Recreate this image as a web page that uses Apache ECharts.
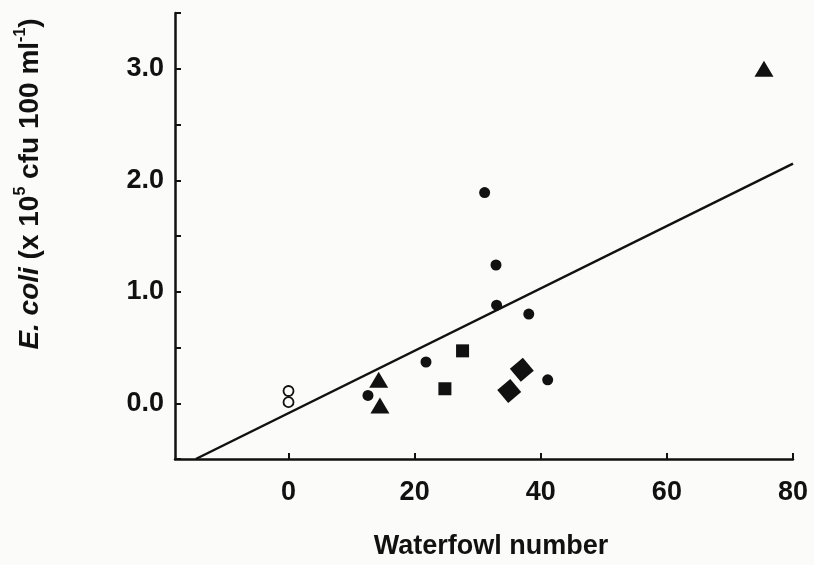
<!DOCTYPE html>
<html>
<head>
<meta charset="utf-8">
<script src="https://cdn.jsdelivr.net/npm/echarts@6/dist/echarts.min.js"></script>
<style>
  html, body { margin: 0; padding: 0; background: #fbfbfa; }
  #chart { width: 814px; height: 565px; }
</style>
</head>
<body>
<div id="chart"></div>
<script>
// values: [waterfowl number, E. coli x10^5 cfu/100 ml]
const openCircles = [[0, 0.11], [0, 0.01]];
const circles = [[12.6, 0.07], [21.8, 0.37], [31.1, 1.89], [32.9, 1.24], [33.0, 0.88], [38.1, 0.80], [41.1, 0.21]];
const triangles = [[14.3, 0.21], [14.5, -0.02], [75.4, 3.0]];
const squares = [[24.8, 0.13], [27.6, 0.47]];
const diamonds = [[35.0, 0.11], [37.0, 0.30]];
const fitLine = [[-14.7, -0.5], [80, 2.15]];

const xTicks = [0, 20, 40, 60, 80];
const yLabels = [0, 1, 2, 3];

const font = '"Liberation Sans", Arial, sans-serif';
const ink = '#111';
let chart = echarts.init(document.getElementById('chart'));

chart.setOption({
  backgroundColor: '#fbfbfa',
  animation: false,
  grid: { left: 175, right: 21, top: 13, bottom: 104 },
  xAxis: {
    type: 'value',
    min: -18,
    max: 80,
    name: 'Waterfowl number',
    nameLocation: 'middle',
    nameGap: 74,
    nameTextStyle: { fontFamily: font, fontSize: 27, fontWeight: 'bold', color: ink, padding: [0, 0, 0, 14] },
    axisLine: { onZero: false, lineStyle: { color: ink, width: 2.5 } },
    axisTick: { inside: true, length: 6, lineStyle: { color: ink, width: 2 }, customValues: xTicks },
    axisLabel: { customValues: xTicks, margin: 20, fontFamily: font, fontSize: 27, fontWeight: 'bold', color: ink },
    splitLine: { show: false }
  },
  yAxis: {
    type: 'value',
    min: -0.5,
    max: 3.5,
    interval: 0.5,
    name: '{i|E. coli} (x 10{s|5} cfu 100 ml{s|-1})',
    nameLocation: 'middle',
    nameRotate: 90,
    nameGap: 128,
    nameTextStyle: {
      fontFamily: font, fontSize: 28, fontWeight: 'bold', color: ink, lineHeight: 34,
      padding: [0, 0, 0, 104],
      rich: {
        i: { fontFamily: font, fontSize: 28, fontWeight: 'bold', fontStyle: 'italic', color: ink, lineHeight: 34 },
        s: { fontFamily: font, fontSize: 16, fontWeight: 'bold', color: ink, verticalAlign: 'top', lineHeight: 34 }
      }
    },
    axisLine: { show: true, onZero: false, lineStyle: { color: ink, width: 2.5 } },
    axisTick: { show: true, inside: true, length: 6, lineStyle: { color: ink, width: 2 } },
    axisLabel: {
      customValues: yLabels,
      margin: 11,
      fontFamily: font, fontSize: 27, fontWeight: 'bold', color: ink,
      formatter: v => v.toFixed(1)
    },
    splitLine: { show: false }
  },
  series: [
    {
      type: 'line', data: fitLine, symbol: 'none', silent: true,
      lineStyle: { color: ink, width: 2.5 }, z: 1
    },
    {
      type: 'scatter', data: openCircles, symbol: 'circle', symbolSize: 10,
      itemStyle: { color: '#fbfbfa', borderColor: ink, borderWidth: 1.8, opacity: 1 }, z: 3
    },
    {
      type: 'scatter', data: circles, symbol: 'circle', symbolSize: 11,
      itemStyle: { color: ink, opacity: 1 }, z: 3
    },
    {
      type: 'scatter', data: triangles, symbol: 'triangle', symbolSize: [19, 16],
      itemStyle: { color: ink, opacity: 1 }, z: 3
    },
    {
      type: 'scatter', data: squares, symbol: 'rect', symbolSize: 13,
      itemStyle: { color: ink, opacity: 1 }, z: 3
    },
    {
      type: 'scatter', data: diamonds, symbol: 'rect', symbolSize: 17, symbolRotate: 40,
      itemStyle: { color: ink, opacity: 1 }, z: 3
    }
  ]
});
</script>
</body>
</html>
